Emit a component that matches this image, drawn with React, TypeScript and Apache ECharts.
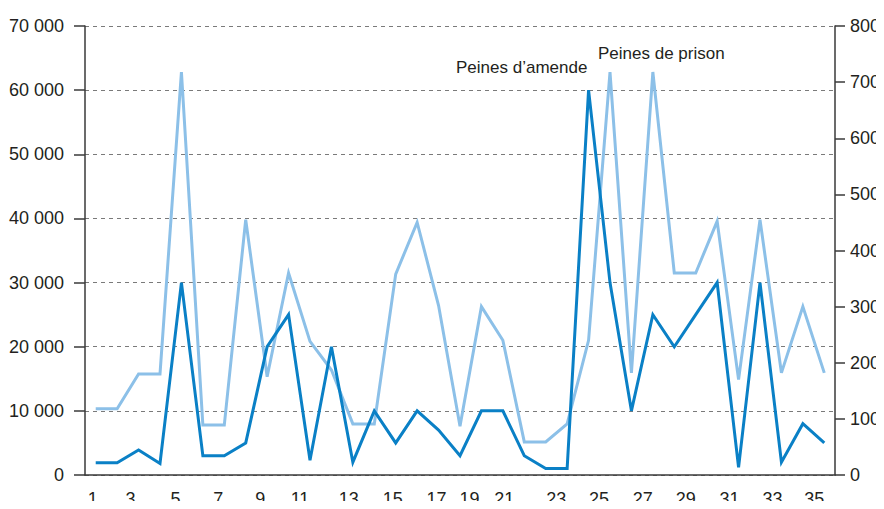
import React, { useEffect, useRef } from "react";
import * as echarts from "echarts";

const categories: string[] = Array.from({ length: 35 }, (_, i) => String(i + 1));

// Peines d'amende (left axis)
const amendes: number[] = [
  1900, 1900, 3900, 1800, 30000, 3000, 3000, 5000, 20000, 25000,
  2300, 20000, 2000, 10000, 5000, 10000, 7000, 3000, 10000, 10000,
  3000, 1000, 1000, 60000, 30000, 10000, 25000, 20000, 25000, 30000,
  1200, 30000, 2000, 8000, 5000,
];

// Peines de prison (right axis)
const prison: number[] = [
  118, 118, 180, 180, 718, 89, 89, 455, 175, 360,
  238, 187, 91, 91, 358, 450, 302, 87, 300, 240,
  59, 59, 91, 240, 718, 182, 718, 360, 360, 452,
  170, 455, 182, 300, 182,
];

const leftTicks = { min: 0, max: 70000, interval: 10000 };
const rightTicks = { min: 0, max: 800, interval: 100 };

// horizontal shift (px) of each category label relative to its band centre
const labelShift: Record<number, number> = {
  0: 3, 2: 8, 4: 6, 6: 6, 8: 7, 10: 10, 12: 4, 14: 3, 16: 2,
  18: 12, 20: 20, 22: 11, 24: 11, 26: 10, 28: 10, 30: 9, 32: 9, 34: 10,
};

const FONT = "'Liberation Sans', Arial, sans-serif";
const TEXT = "#231f20";
const AXIS = "#3a3a3a";
const DARK = "#0a80c6";
const LIGHT = "#8cc0e8";

export default function App() {
  const ref = useRef<HTMLDivElement>(null);

  useEffect(() => {
    if (!ref.current) return;
    const chart = echarts.init(ref.current, null, { renderer: "svg" });

    const rich: Record<string, any> = {};
    Object.keys(labelShift).forEach((k) => {
      const d = labelShift[Number(k)];
      rich["s" + k] = {
        fontFamily: FONT,
        fontSize: 18,
        color: TEXT,
        padding: [0, 2 * d, 0, 0],
      };
    });

    const fmtThousands = (v: number) =>
      String(v).replace(/\B(?=(\d{3})+(?!\d))/g, " ");

    chart.setOption({
      animation: false,
      grid: { left: 85, right: 49, top: 26, bottom: 34 },
      xAxis: {
        type: "category",
        data: categories,
        boundaryGap: true,
        axisLine: { lineStyle: { color: AXIS, width: 1.5 } },
        axisTick: { alignWithLabel: false, interval: 0, length: 8, lineStyle: { color: AXIS, width: 1.5 } },
        axisLabel: {
          interval: 1,
          margin: 15,
          fontFamily: FONT,
          fontSize: 18,
          color: TEXT,
          formatter: (value: string, index: number) => `{s${index}|${value}}`,
          rich,
        },
        splitLine: { show: false },
      },
      yAxis: [
        {
          type: "value",
          position: "left",
          ...leftTicks,
          axisLine: { show: true, lineStyle: { color: AXIS, width: 1.5 } },
          axisTick: { show: true, length: 11, lineStyle: { color: AXIS, width: 1.5 } },
          axisLabel: {
            margin: 21,
            fontFamily: FONT,
            fontSize: 18,
            color: TEXT,
            formatter: fmtThousands,
          },
          splitLine: {
            show: true,
            lineStyle: { color: "#7a7a7a", width: 1.2, type: [4, 4] },
          },
        },
        {
          type: "value",
          position: "right",
          ...rightTicks,
          axisLine: { show: true, lineStyle: { color: AXIS, width: 1.5 } },
          axisTick: { show: true, length: 10, lineStyle: { color: AXIS, width: 1.5 } },
          axisLabel: {
            margin: 15,
            fontFamily: FONT,
            fontSize: 18,
            color: TEXT,
          },
          splitLine: { show: false },
        },
      ],
      series: [
        {
          name: "Peines de prison",
          type: "line",
          yAxisIndex: 1,
          data: prison,
          symbol: "none",
          lineStyle: { color: LIGHT, width: 3, join: "miter" },
          itemStyle: { color: LIGHT },
          z: 2,
        },
        {
          name: "Peines d’amende",
          type: "line",
          yAxisIndex: 0,
          data: amendes,
          symbol: "none",
          lineStyle: { color: DARK, width: 3, join: "miter" },
          itemStyle: { color: DARK },
          z: 3,
        },
      ],
      graphic: [
        {
          type: "text",
          left: 456,
          top: 59,
          style: { text: "Peines d’amende", fontFamily: FONT, fontSize: 17, fill: TEXT },
        },
        {
          type: "text",
          left: 598,
          top: 45,
          style: { text: "Peines de prison", fontFamily: FONT, fontSize: 17, fill: TEXT },
        },
      ],
    });

    return () => chart.dispose();
  }, []);

  return <div ref={ref} style={{ width: 884, height: 509, margin: -8 }} />;
}
